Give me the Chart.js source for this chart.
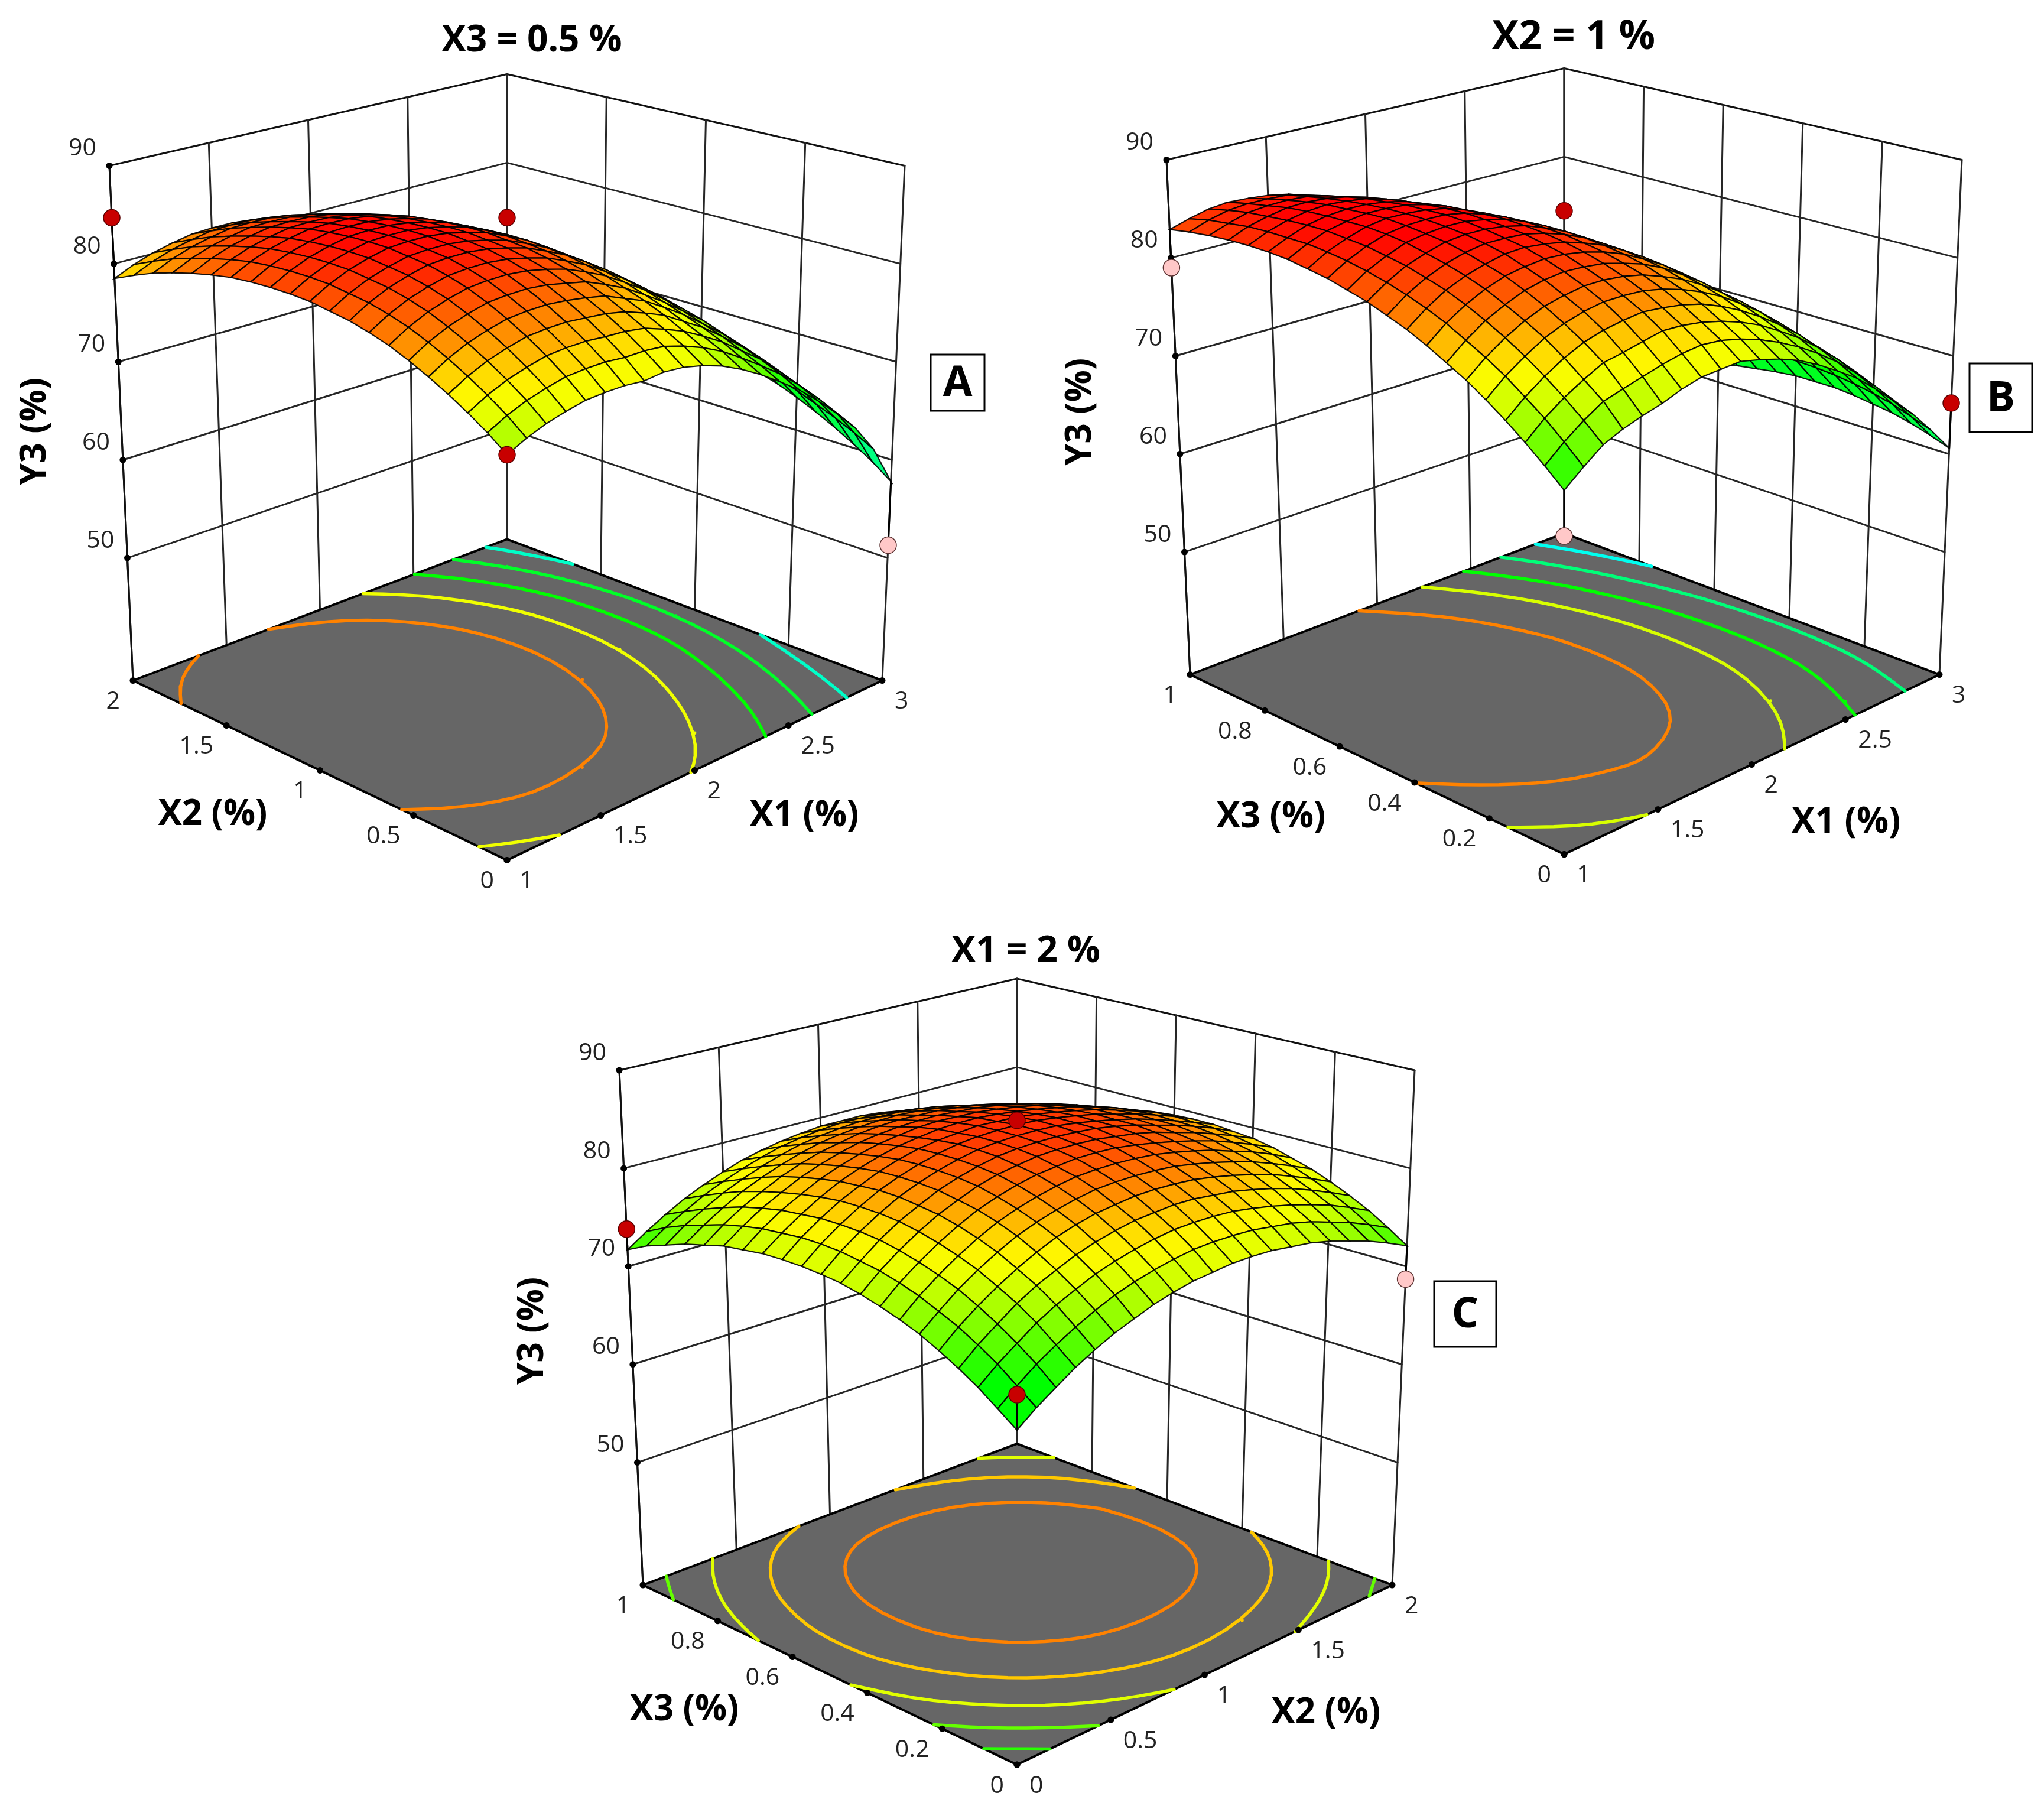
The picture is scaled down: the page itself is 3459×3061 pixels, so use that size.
<!DOCTYPE html>
<html>
<head>
<meta charset="utf-8">
<title>Y3 response surfaces</title>
<script src="https://cdn.jsdelivr.net/npm/chart.js@4"></script>
<style>
  html, body { margin: 0; padding: 0; background: #fff; }
  canvas { display: block; }
</style>
</head>
<body>
<canvas id="surfaces" width="3459" height="3061"></canvas>
<script>
const yTicks = [50, 60, 70, 80, 90];

// X3 = 0.5 : rows X1 from 1 to 3, columns X2 from 0 to 2 (steps of 1/20 of range)
const surfaceA = [
  [74.7,76.1,77.3,78.4,79.4,80.3,81.1,81.7,82.2,82.5,82.8,82.9,82.9,82.8,82.6,82.2,81.7,81.1,80.4,79.5,78.5],
  [75.6,77.0,78.2,79.3,80.3,81.2,82.0,82.6,83.1,83.4,83.7,83.8,83.8,83.7,83.5,83.1,82.6,82.0,81.3,80.4,79.4],
  [76.3,77.7,78.9,80.0,81.0,81.9,82.7,83.3,83.8,84.1,84.4,84.5,84.5,84.4,84.2,83.8,83.3,82.7,82.0,81.1,80.1],
  [76.8,78.2,79.4,80.5,81.5,82.4,83.2,83.8,84.3,84.6,84.9,85.0,85.0,84.9,84.7,84.3,83.8,83.2,82.5,81.6,80.6],
  [77.2,78.6,79.8,80.9,81.9,82.8,83.6,84.2,84.7,85.0,85.3,85.4,85.4,85.3,85.1,84.7,84.2,83.6,82.9,82.0,81.0],
  [77.3,78.7,79.9,81.0,82.0,82.9,83.7,84.3,84.8,85.1,85.4,85.5,85.5,85.4,85.2,84.8,84.3,83.7,83.0,82.1,81.1],
  [77.3,78.7,79.9,81.0,82.0,82.9,83.7,84.3,84.8,85.1,85.4,85.5,85.5,85.4,85.2,84.8,84.3,83.7,83.0,82.1,81.1],
  [77.1,78.5,79.7,80.8,81.8,82.7,83.5,84.1,84.6,84.9,85.2,85.3,85.3,85.2,85.0,84.6,84.1,83.5,82.8,81.9,80.9],
  [77.3,78.5,79.6,80.6,81.5,82.3,83.1,83.7,84.2,84.5,84.8,84.9,84.9,84.8,84.6,84.2,83.7,83.1,82.4,81.5,80.5],
  [77.1,78.3,79.3,80.2,81.1,81.9,82.6,83.2,83.7,84.0,84.3,84.4,84.4,84.3,84.1,83.7,83.2,82.6,81.9,81.0,80.0],
  [76.6,77.7,78.6,79.5,80.3,81.1,81.8,82.4,82.9,83.2,83.5,83.6,83.6,83.5,83.3,82.9,82.4,81.8,81.1,80.2,79.2],
  [75.9,76.9,77.8,78.7,79.5,80.2,80.9,81.5,82.0,82.3,82.6,82.7,82.7,82.6,82.4,82.0,81.5,80.9,80.2,79.3,78.3],
  [74.9,75.9,76.7,77.5,78.3,79.0,79.7,80.3,80.8,81.1,81.4,81.5,81.5,81.4,81.2,80.8,80.3,79.7,79.0,78.1,77.1],
  [73.7,74.6,75.5,76.3,77.0,77.7,78.4,79.0,79.5,79.8,80.1,80.2,80.2,80.1,79.9,79.5,79.0,78.4,77.7,76.8,75.8],
  [72.3,73.2,74.0,74.8,75.5,76.2,76.9,77.5,78.0,78.3,78.6,78.7,78.7,78.6,78.4,78.0,77.5,76.9,76.2,75.3,74.3],
  [70.8,71.7,72.5,73.2,73.9,74.7,75.3,75.9,76.4,76.7,77.0,77.1,77.1,77.0,76.8,76.4,75.9,75.3,74.6,73.7,72.7],
  [69.0,69.9,70.6,71.4,72.1,72.8,73.4,74.0,74.5,74.8,75.1,75.2,75.2,75.1,74.9,74.5,74.0,73.4,72.7,71.8,70.8],
  [67.0,67.9,68.6,69.4,70.1,70.8,71.4,72.0,72.5,72.8,73.1,73.2,73.2,73.1,72.9,72.5,72.0,71.4,70.7,69.8,68.8],
  [64.8,65.7,66.4,67.2,67.9,68.6,69.2,69.8,70.3,70.6,70.9,71.0,71.0,70.9,70.7,70.3,69.8,69.2,68.5,67.6,66.6],
  [61.9,62.9,63.8,64.6,65.4,66.1,66.8,67.4,67.9,68.2,68.5,68.6,68.6,68.5,68.3,67.9,67.4,66.8,66.1,65.2,64.2],
  [57.8,59.2,60.4,61.5,62.5,63.4,64.2,64.8,65.3,65.6,65.9,66.0,66.0,65.9,65.7,65.3,64.8,64.2,63.5,62.6,61.6]
];

// X2 = 1 : rows X1 from 1 to 3, columns X3 from 0 to 1
const surfaceB = [
  [70.9,72.5,74.0,75.4,76.7,77.9,78.9,79.9,80.8,81.5,82.2,82.7,83.2,83.5,83.8,83.9,83.9,83.8,83.6,83.3,82.9],
  [72.4,74.0,75.5,76.8,78.1,79.2,80.2,81.2,82.0,82.7,83.3,83.8,84.2,84.5,84.7,84.7,84.7,84.6,84.3,84.0,83.5],
  [73.8,75.3,76.7,78.0,79.2,80.3,81.3,82.2,83.0,83.6,84.2,84.6,85.0,85.2,85.4,85.4,85.3,85.1,84.9,84.5,84.0],
  [74.6,76.4,77.7,79.0,80.2,81.2,82.1,83.0,83.7,84.3,84.8,85.3,85.6,85.8,85.8,85.8,85.7,85.5,85.1,84.7,84.2],
  [75.2,76.9,78.6,79.8,80.9,81.9,82.8,83.6,84.2,84.8,85.3,85.6,85.9,86.1,86.1,86.0,85.9,85.6,85.2,84.7,84.1],
  [75.7,77.4,78.9,80.3,81.4,82.3,83.2,83.9,84.6,85.1,85.5,85.8,86.0,86.1,86.1,86.0,85.8,85.5,85.1,84.6,83.9],
  [76.4,77.9,79.3,80.6,81.7,82.6,83.4,84.1,84.7,85.1,85.5,85.8,86.0,86.0,86.0,85.8,85.6,85.2,84.7,84.1,83.5],
  [76.9,78.3,79.7,80.8,81.7,82.6,83.3,84.0,84.5,85.0,85.3,85.5,85.7,85.7,85.6,85.4,85.1,84.7,84.1,83.5,82.8],
  [77.0,78.5,79.6,80.6,81.6,82.4,83.1,83.7,84.2,84.6,84.9,85.1,85.1,85.1,85.0,84.7,84.4,83.9,83.4,82.7,81.9],
  [77.1,78.3,79.3,80.3,81.2,82.0,82.6,83.2,83.6,84.0,84.2,84.4,84.4,84.3,84.1,83.8,83.4,82.9,82.3,81.6,80.8],
  [76.6,77.8,78.8,79.8,80.6,81.3,82.0,82.5,82.9,83.2,83.4,83.5,83.4,83.3,83.1,82.8,82.3,81.8,81.1,80.3,79.5],
  [76.0,77.1,78.1,79.0,79.8,80.5,81.1,81.5,81.9,82.1,82.3,82.3,82.3,82.1,81.8,81.4,81.0,80.4,79.7,78.9,77.9],
  [75.2,76.2,77.2,78.0,78.8,79.4,79.9,80.4,80.7,80.9,81.0,81.0,80.9,80.7,80.3,79.9,79.4,78.7,78.0,77.1,76.2],
  [74.1,75.1,76.0,76.8,77.5,78.1,78.6,79.0,79.2,79.4,79.5,79.4,79.3,79.0,78.6,78.2,77.6,76.9,76.1,75.2,74.2],
  [72.8,73.8,74.7,75.4,76.1,76.6,77.0,77.4,77.6,77.7,77.7,77.6,77.4,77.1,76.7,76.2,75.6,74.8,74.0,73.1,72.0],
  [71.4,72.3,73.1,73.8,74.4,74.9,75.3,75.6,75.7,75.8,75.8,75.6,75.4,75.0,74.6,74.0,73.3,72.6,71.7,70.7,69.6],
  [69.6,70.5,71.3,71.9,72.5,72.9,73.3,73.5,73.7,73.7,73.6,73.4,73.1,72.7,72.2,71.6,70.9,70.1,69.1,68.1,67.0],
  [67.7,68.5,69.3,69.9,70.4,70.8,71.1,71.3,71.4,71.3,71.2,71.0,70.6,70.2,69.6,69.0,68.2,67.4,66.4,65.3,64.1],
  [65.6,66.3,67.0,67.6,68.0,68.4,68.7,68.8,68.8,68.8,68.6,68.3,67.9,67.4,66.9,66.1,65.3,64.4,63.4,62.3,61.0],
  [63.2,63.9,64.6,65.1,65.5,65.8,66.0,66.1,66.1,66.0,65.8,65.5,65.0,64.5,63.8,63.1,62.2,61.3,60.2,59.0,57.8],
  [60.6,61.3,61.9,62.4,62.7,63.0,63.2,63.2,63.2,63.0,62.7,62.4,61.9,61.3,60.6,59.8,58.9,57.9,56.8,55.6,54.2]
];

// X1 = 2 : rows X2 from 0 to 2, columns X3 from 0 to 1
const surfaceC = [
  [68.2,69.5,70.8,71.9,72.9,73.8,74.5,75.1,75.6,76.0,76.2,76.3,76.3,76.2,75.9,75.6,75.0,74.4,73.6,72.8,71.7],
  [69.6,70.9,72.2,73.3,74.3,75.1,75.9,76.5,77.0,77.3,77.6,77.7,77.7,77.5,77.3,76.9,76.4,75.7,75.0,74.1,73.0],
  [70.8,72.2,73.4,74.5,75.5,76.4,77.1,77.7,78.2,78.6,78.8,78.9,78.9,78.7,78.5,78.1,77.6,76.9,76.1,75.2,74.2],
  [72.0,73.3,74.6,75.7,76.6,77.5,78.2,78.8,79.3,79.7,79.9,80.0,80.0,79.8,79.5,79.1,78.6,78.0,77.2,76.3,75.3],
  [73.0,74.3,75.6,76.7,77.6,78.5,79.2,79.8,80.3,80.6,80.9,81.0,80.9,80.8,80.5,80.1,79.6,78.9,78.1,77.2,76.2],
  [73.9,75.2,76.4,77.5,78.5,79.4,80.1,80.7,81.1,81.5,81.7,81.8,81.8,81.6,81.3,80.9,80.4,79.7,78.9,78.0,77.0],
  [74.6,76.0,77.2,78.3,79.3,80.1,80.8,81.4,81.9,82.2,82.4,82.5,82.5,82.3,82.0,81.6,81.1,80.4,79.6,78.7,77.7],
  [75.3,76.6,77.8,78.9,79.9,80.7,81.4,82.0,82.5,82.8,83.0,83.1,83.1,82.9,82.6,82.2,81.6,81.0,80.2,79.3,78.2],
  [75.8,77.1,78.3,79.4,80.4,81.2,81.9,82.5,82.9,83.3,83.5,83.6,83.5,83.3,83.0,82.6,82.1,81.4,80.6,79.7,78.6],
  [76.2,77.5,78.7,79.8,80.7,81.6,82.3,82.8,83.3,83.6,83.8,83.9,83.8,83.7,83.4,82.9,82.4,81.7,80.9,80.0,78.9],
  [76.4,77.8,79.0,80.0,81.0,81.8,82.5,83.1,83.5,83.8,84.0,84.1,84.1,83.9,83.6,83.1,82.6,81.9,81.1,80.2,79.1],
  [76.6,77.9,79.1,80.2,81.1,81.9,82.6,83.2,83.6,83.9,84.1,84.2,84.1,84.0,83.6,83.2,82.6,82.0,81.1,80.2,79.1],
  [76.6,77.9,79.1,80.2,81.1,81.9,82.6,83.2,83.6,83.9,84.1,84.2,84.1,83.9,83.6,83.1,82.6,81.9,81.1,80.1,79.1],
  [76.5,77.8,79.0,80.0,81.0,81.8,82.5,83.0,83.4,83.8,83.9,84.0,83.9,83.7,83.4,83.0,82.4,81.7,80.9,79.9,78.9],
  [76.2,77.5,78.7,79.8,80.7,81.5,82.2,82.7,83.2,83.5,83.6,83.7,83.6,83.4,83.1,82.7,82.1,81.4,80.6,79.6,78.5],
  [75.9,77.2,78.3,79.4,80.3,81.1,81.8,82.3,82.8,83.1,83.2,83.3,83.2,83.0,82.7,82.2,81.6,80.9,80.1,79.1,78.1],
  [75.4,76.7,77.8,78.9,79.8,80.6,81.3,81.8,82.2,82.5,82.7,82.7,82.7,82.5,82.1,81.7,81.1,80.4,79.5,78.6,77.5],
  [74.7,76.0,77.2,78.3,79.2,80.0,80.6,81.2,81.6,81.9,82.0,82.1,82.0,81.8,81.4,81.0,80.4,79.7,78.8,77.9,76.8],
  [74.0,75.3,76.5,77.5,78.4,79.2,79.9,80.4,80.8,81.1,81.2,81.3,81.2,81.0,80.6,80.2,79.6,78.9,78.0,77.0,75.9],
  [73.1,74.4,75.6,76.6,77.5,78.3,79.0,79.5,79.9,80.2,80.3,80.4,80.3,80.0,79.7,79.2,78.6,77.9,77.1,76.1,75.0],
  [72.1,73.4,74.6,75.6,76.5,77.3,77.9,78.5,78.9,79.1,79.3,79.3,79.2,79.0,78.6,78.2,77.6,76.8,76.0,75.0,73.9]
];

// contour levels on the floor
const levelsA = [64.5, 68.5, 72.6, 76.7, 80.8];
const levelsB = [59.5, 65.2, 70.5, 75.4, 80.75];
const levelsC = [70.5, 73.3, 75.95, 78.7, 81.45];
const levelColorsA = ['#00ffc8', '#00ff28', '#00ff00', '#f0ff00', '#ff8200'];
const levelColorsB = ['#00fff0', '#00ff78', '#00ff00', '#d8ff00', '#ff8200'];
const levelColorsC = ['#28ff00', '#64ff00', '#e1ff00', '#ffc800', '#ff8200'];

// design points [right axis value, left axis value, Y3]
const designA = [[1, 2, 84.7], [3, 2, 73.8], [1, 0, 74.7], [3, 0, 51.3]];
const designB = [[1, 1, 79.0], [3, 1, 73.9], [1, 0, 66.7], [3, 0, 65.2]];
const designC = [[0, 1, 73.8], [2, 1, 74.0], [0, 0, 71.45], [2, 0, 68.7]];

const ticksX1 = [1, 1.5, 2, 2.5, 3];
const ticksX2 = [0, 0.5, 1, 1.5, 2];
const ticksX3 = [0, 0.2, 0.4, 0.6, 0.8, 1];

const panels = [
  { title: 'X3 = 0.5 %', titleSize: 62, titleX: 900, titleY: 69, cx: 858, floorY: 1151.5, surface: surfaceA,
    levels: levelsA, levelColors: levelColorsA, design: designA,
    rightTicks: ticksX1, leftTicks: ticksX2, rightName: 'X1 (%)', leftName: 'X2 (%)',
    rightNameX: 1361, rightNameY: 1381, leftNameX: 360, leftNameY: 1379, yNameX: 60, yNameY: 730,
    tag: 'A', tagBox: [1575, 600, 91, 95] },
  { title: 'X2 = 1 %', titleSize: 68, titleX: 2663, titleY: 64, cx: 2647, floorY: 1141.5, surface: surfaceB,
    levels: levelsB, levelColors: levelColorsB, design: designB,
    rightTicks: ticksX1, leftTicks: ticksX3, rightName: 'X1 (%)', leftName: 'X3 (%)',
    rightNameX: 3124, rightNameY: 1392, leftNameX: 2151, leftNameY: 1383, yNameX: 1829, yNameY: 697,
    tag: 'B', tagBox: [3333, 615, 106, 116] },
  { title: 'X1 = 2 %', titleSize: 62, titleX: 1736, titleY: 1610, cx: 1721, floorY: 2682, surface: surfaceC,
    levels: levelsC, levelColors: levelColorsC, design: designC,
    rightTicks: ticksX2, leftTicks: ticksX3, rightName: 'X2 (%)', leftName: 'X3 (%)',
    rightNameX: 2244, rightNameY: 2899, leftNameX: 1158, leftNameY: 2894, yNameX: 902, yNameY: 2252,
    tag: 'C', tagBox: [2427, 2168, 105, 111] }
];

// box corners relative to the back edge / left floor corner, [dx, dy] in px
const floorCorners = { left: [-633, 0], back: [0, -239], right: [635, 0], front: [0, 304] };
const topCorners = { left: [-673, -871], back: [0, -1026], right: [673, -871], front: [0, -664] };
const floorY3 = 37.5, topY3 = 90;

function blend(c, s, t, k) {
  return (1 - s) * (1 - t) * c.front[k] + s * (1 - t) * c.right[k] + s * t * c.back[k] + (1 - s) * t * c.left[k];
}

// u, v go from -1 to 1 along the two floor axes
function project(panel, u, v, y3) {
  const s = (u + 1) / 2, t = (v + 1) / 2, h = (y3 - floorY3) / (topY3 - floorY3);
  // the box edges are straight in the picture, the inside sits a bit off the plain blend
  const inner = (1 - u * u) * (1 - v * v);
  const bend = inner * ((1 - h) * -18.5 + h * 45 * (u + v) / 2);
  return {
    x: panel.cx + (1 - h) * blend(floorCorners, s, t, 0) + h * blend(topCorners, s, t, 0),
    y: panel.floorY + (1 - h) * blend(floorCorners, s, t, 1) + h * blend(topCorners, s, t, 1) + bend
  };
}

function coded(val, ticks) {
  const lo = ticks[0], hi = ticks[ticks.length - 1];
  return -1 + 2 * (val - lo) / (hi - lo);
}

// colour ramp of the surface, Y3 -> rgb
const ramp = [
  [50, 0, 0, 255], [56, 0, 255, 255], [60, 0, 255, 140], [64, 0, 255, 40], [67, 0, 255, 0], [71, 0, 255, 0],
  [73.3, 90, 255, 0], [75.8, 180, 255, 0], [77.6, 245, 255, 0], [78.4, 255, 245, 0], [80, 255, 190, 0],
  [81, 255, 150, 0], [82, 255, 115, 0], [83.7, 255, 60, 0], [85.5, 255, 0, 0]
];

function surfaceColor(val) {
  if (val <= ramp[0][0]) return 'rgb(0,0,255)';
  for (let i = 1; i < ramp.length; i++) {
    if (val <= ramp[i][0]) {
      const p = ramp[i - 1], q = ramp[i], t = (val - p[0]) / (q[0] - p[0]);
      return `rgb(${Math.round(p[1] + t * (q[1] - p[1]))},${Math.round(p[2] + t * (q[2] - p[2]))},${Math.round(p[3] + t * (q[3] - p[3]))})`;
    }
  }
  return 'rgb(255,0,0)';
}

function lineSet(points, color, width) {
  return { data: points, showLine: true, fill: false, borderColor: color, borderWidth: width,
    pointRadius: 0, tension: 0, borderCapStyle: 'round', borderJoinStyle: 'round', clip: false };
}

function polySet(points, fillColor, lineColor, width) {
  return { data: points.concat([points[0]]), showLine: true, fill: 'shape', backgroundColor: fillColor,
    borderColor: lineColor, borderWidth: width, pointRadius: 0, tension: 0, clip: false };
}

// contour pieces by marching squares over the table
function contourPieces(table, level) {
  const n = table.length - 1, pieces = [];
  const at = i => -1 + 2 * i / n;
  for (let i = 0; i < n; i++) {
    for (let j = 0; j < n; j++) {
      const corners = [[i, j], [i + 1, j], [i + 1, j + 1], [i, j + 1]];
      const hits = [];
      for (let k = 0; k < 4; k++) {
        const p = corners[k], q = corners[(k + 1) % 4];
        const zp = table[p[0]][p[1]], zq = table[q[0]][q[1]];
        if ((zp < level) !== (zq < level)) {
          const f = (level - zp) / (zq - zp);
          hits.push({ u: at(p[0] + f * (q[0] - p[0])), v: at(p[1] + f * (q[1] - p[1])) });
        }
      }
      for (let k = 0; k + 1 < hits.length; k += 2) pieces.push([hits[k], hits[k + 1]]);
    }
  }
  return pieces;
}

// join the pieces into runs and round off the kinks of the 0.1 rounding
function contourRuns(pieces) {
  const key = p => p.u.toFixed(4) + ',' + p.v.toFixed(4);
  const left = pieces.slice(), runs = [];
  while (left.length) {
    const run = left.pop().slice();
    let grown = true;
    while (grown) {
      grown = false;
      for (let k = 0; k < left.length; k++) {
        const [p, q] = left[k];
        if (key(p) === key(run[run.length - 1])) run.push(q);
        else if (key(q) === key(run[run.length - 1])) run.push(p);
        else if (key(p) === key(run[0])) run.unshift(q);
        else if (key(q) === key(run[0])) run.unshift(p);
        else continue;
        left.splice(k, 1);
        grown = true;
        break;
      }
    }
    runs.push(run);
  }
  return runs.map(run => {
    let line = run;
    for (let pass = 0; pass < 4; pass++) {
      line = line.map((p, i) => {
        if (i === 0 || i === line.length - 1) return p;
        return { u: (line[i - 1].u + 2 * p.u + line[i + 1].u) / 4, v: (line[i - 1].v + 2 * p.v + line[i + 1].v) / 4 };
      });
    }
    return line;
  });
}

function contourSet(panel, level, color) {
  const pts = [];
  contourRuns(contourPieces(panel.surface, level)).forEach(run => {
    run.forEach(p => pts.push(project(panel, p.u, p.v, floorY3)));
    pts.push({ x: NaN, y: NaN });
  });
  return lineSet(pts, color, 5.5);
}

function panelSets(panel) {
  const sets = [];
  const gridColor = '#262626';

  // horizontal wall lines
  yTicks.forEach(tick => {
    sets.push(lineSet([project(panel, -1, 1, tick), project(panel, 1, 1, tick), project(panel, 1, -1, tick)],
      tick === 90 ? '#111' : gridColor, 3));
  });
  // vertical wall lines
  panel.rightTicks.forEach(val => {
    const u = coded(val, panel.rightTicks);
    sets.push(lineSet([project(panel, u, 1, floorY3), project(panel, u, 1, topY3)], gridColor, 3));
  });
  panel.leftTicks.forEach(val => {
    const v = coded(val, panel.leftTicks);
    sets.push(lineSet([project(panel, 1, v, floorY3), project(panel, 1, v, topY3)], gridColor, 3));
  });
  sets.push(lineSet([project(panel, -1, 1, floorY3), project(panel, -1, 1, topY3)], '#111', 3));

  // floor
  sets.push(polySet([
    project(panel, -1, 1, floorY3), project(panel, 1, 1, floorY3),
    project(panel, 1, -1, floorY3), project(panel, -1, -1, floorY3)
  ], '#666666', '#000', 4));

  panel.levels.forEach((level, k) => sets.push(contourSet(panel, level, panel.levelColors[k])));

  // surface cells, far ones first
  const t = panel.surface, n = t.length - 1;
  const cu = i => -1 + 2 * i / n;
  const cells = [];
  for (let i = 0; i < n; i++) {
    for (let j = 0; j < n; j++) cells.push([i, j]);
  }
  cells.sort((p, q) => (q[0] + q[1]) - (p[0] + p[1]));
  cells.forEach(([i, j]) => {
    const avg = (t[i][j] + t[i + 1][j] + t[i + 1][j + 1] + t[i][j + 1]) / 4;
    sets.push(polySet([
      project(panel, cu(i), cu(j), t[i][j]),
      project(panel, cu(i + 1), cu(j), t[i + 1][j]),
      project(panel, cu(i + 1), cu(j + 1), t[i + 1][j + 1]),
      project(panel, cu(i), cu(j + 1), t[i][j + 1])
    ], surfaceColor(avg), 'rgba(0,0,0,0.9)', 2.2));
  });

  // axis tick dots
  const dots = [];
  yTicks.forEach(tick => dots.push(project(panel, -1, 1, tick)));
  panel.rightTicks.forEach(val => dots.push(project(panel, coded(val, panel.rightTicks), -1, floorY3)));
  panel.leftTicks.forEach(val => dots.push(project(panel, -1, coded(val, panel.leftTicks), floorY3)));
  sets.push({ data: dots, pointRadius: 5.5, pointBackgroundColor: '#000', pointBorderWidth: 0, clip: false });

  // design points with their drop lines, back corner has none
  const red = [], pink = [];
  panel.design.forEach(row => {
    const u = coded(row[0], panel.rightTicks), v = coded(row[1], panel.leftTicks);
    const i = Math.round((u + 1) / 2 * n), j = Math.round((v + 1) / 2 * n);
    const onSurface = t[i][j];
    const dot = project(panel, u, v, row[2]);
    if (!(u === 1 && v === 1)) {
      sets.push(lineSet([dot, project(panel, u, v, onSurface)], '#000', 3));
    }
    (row[2] >= onSurface ? red : pink).push(dot);
  });
  sets.push({ data: red, pointRadius: 14, pointBackgroundColor: '#c80000', pointBorderColor: '#5a0000',
    pointBorderWidth: 1.5, clip: false });
  sets.push({ data: pink, pointRadius: 14, pointBackgroundColor: '#ffc8c8', pointBorderColor: '#5a3030',
    pointBorderWidth: 1.5, clip: false });
  return sets;
}

// all the labels are canvas text next to the projected ticks
const labelPlugin = {
  id: 'labels',
  afterDraw(chart) {
    const ctx = chart.ctx;
    const sx = chart.scales.x, sy = chart.scales.y;
    const put = (text, p, dx, dy, align) => {
      ctx.textAlign = align;
      ctx.fillText(text, sx.getPixelForValue(p.x) + dx, sy.getPixelForValue(p.y) + dy);
    };
    ctx.save();
    ctx.textBaseline = 'middle';
    panels.forEach(panel => {
      ctx.fillStyle = '#222';
      ctx.font = '41px "Open Sans"';
      yTicks.forEach(tick => put(String(tick), project(panel, -1, 1, tick), -22, -29, 'right'));
      panel.leftTicks.forEach(val => put(String(val), project(panel, -1, coded(val, panel.leftTicks), floorY3), -22, 36, 'right'));
      panel.rightTicks.forEach(val => put(String(val), project(panel, coded(val, panel.rightTicks), -1, floorY3), 21, 36, 'left'));

      ctx.fillStyle = '#000';
      ctx.font = `bold ${panel.titleSize}px "Open Sans"`;
      ctx.textAlign = 'center';
      ctx.fillText(panel.title, panel.titleX, panel.titleY);
      ctx.font = 'bold 60px "Open Sans"';
      ctx.fillText(panel.rightName, panel.rightNameX, panel.rightNameY);
      ctx.fillText(panel.leftName, panel.leftNameX, panel.leftNameY);
      ctx.save();
      ctx.translate(panel.yNameX, panel.yNameY);
      ctx.rotate(-Math.PI / 2);
      ctx.fillText('Y3 (%)', 0, 0);
      ctx.restore();

      const box = panel.tagBox;
      ctx.lineWidth = 3;
      ctx.strokeStyle = '#000';
      ctx.strokeRect(box[0], box[1], box[2], box[3]);
      ctx.font = 'bold 72px "Open Sans"';
      ctx.fillText(panel.tag, box[0] + box[2] / 2, box[1] + box[3] / 2 + 2);
    });
    ctx.restore();
  }
};

// first dataset ends up on top, so the painter order is reversed
const allSets = [];
panels.forEach(panel => allSets.push(...panelSets(panel)));
allSets.reverse();

new Chart(document.querySelector('#surfaces').getContext('2d'), {
  type: 'scatter',
  data: { datasets: allSets },
  options: {
    responsive: false,
    animation: false,
    devicePixelRatio: 1,
    events: [],
    layout: { padding: 0, autoPadding: false },
    plugins: { legend: { display: false }, tooltip: { enabled: false }, title: { display: false } },
    scales: {
      x: { type: 'linear', min: 0, max: 3459, display: false },
      y: { type: 'linear', min: 0, max: 3061, reverse: true, display: false }
    }
  },
  plugins: [labelPlugin]
});
</script>
</body>
</html>
